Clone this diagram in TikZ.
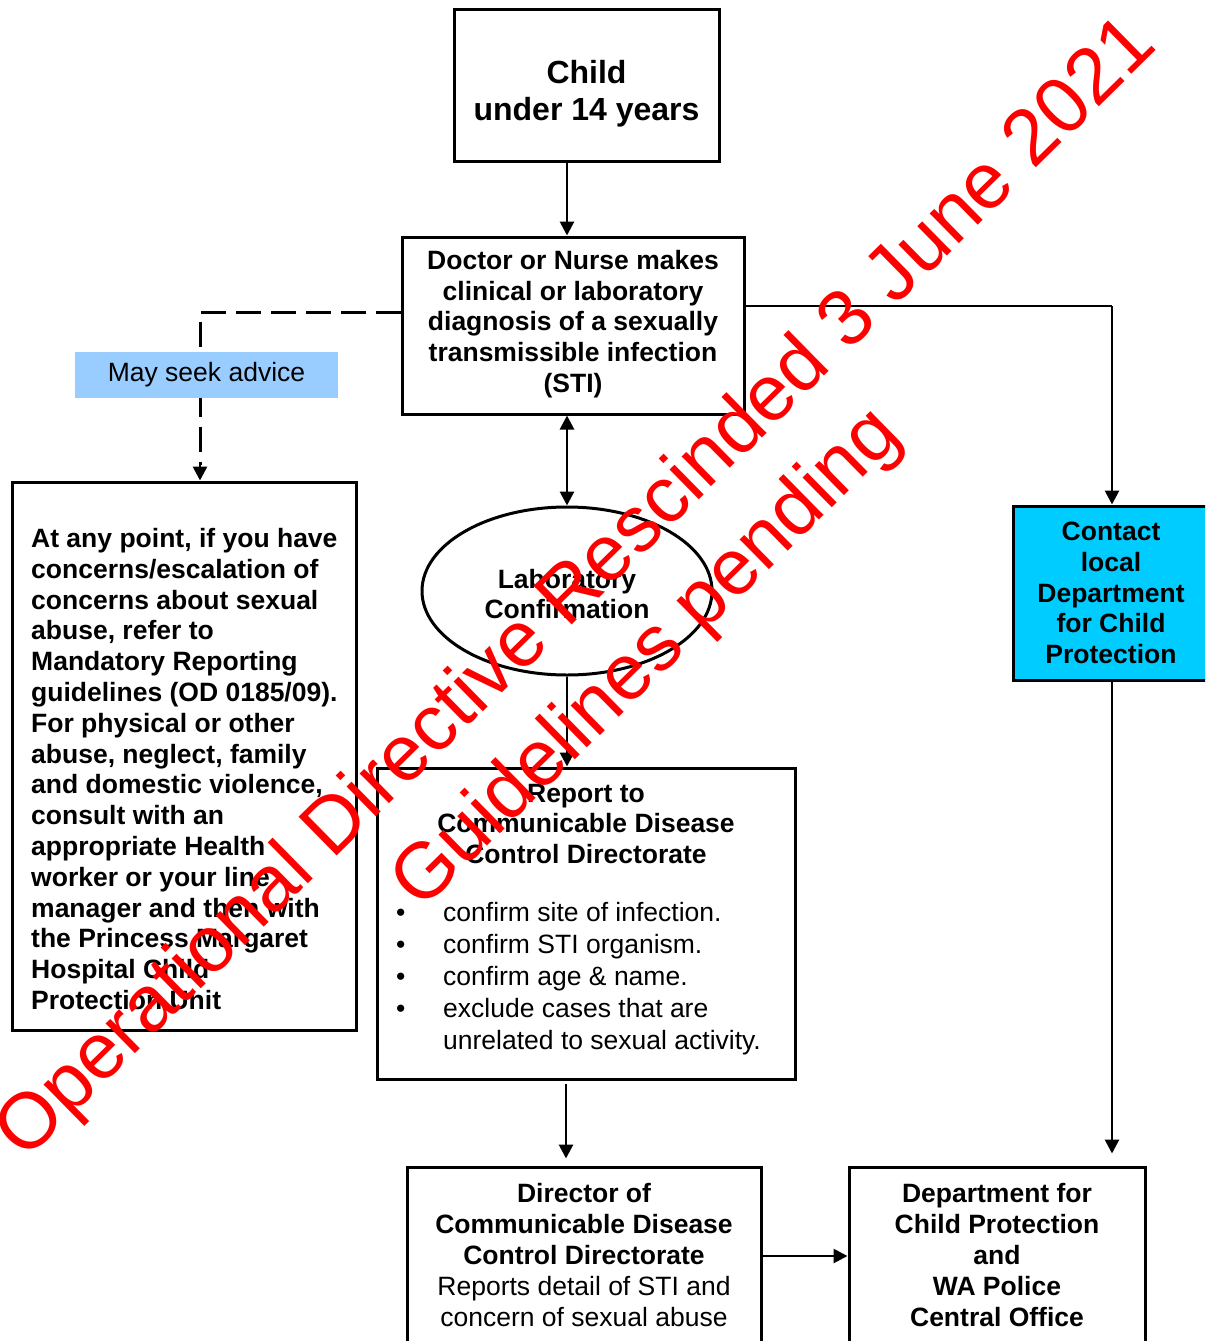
\documentclass[tikz,border=0pt]{standalone}
\usepackage{fontspec}
\setmainfont{Liberation Sans}
\usetikzlibrary{arrows.meta,shapes.geometric}
\definecolor{advblue}{HTML}{99CCFF}
\definecolor{contcyan}{HTML}{00CCFF}
\definecolor{wmred}{HTML}{FF0000}
\begin{document}
\begin{tikzpicture}[x=1pt,y=-1pt,
  box/.style={draw=black,line width=3pt,rectangle,inner sep=0pt},
  btxt/.style={font=\bfseries\fontsize{26.5}{30.8}\selectfont,align=center,inner sep=0pt},
  rtxt/.style={font=\fontsize{26.5}{32.1}\selectfont,align=center,inner sep=0pt},
  arr/.style={line width=2.8pt,-{Triangle[length=14pt,width=14pt]}},
  dblarr/.style={line width=2.8pt,{Triangle[length=14pt,width=14pt]}-{Triangle[length=14pt,width=14pt]}},
  dasharr/.style={line width=3pt,dash pattern=on 25pt off 10pt},
  wm/.style={text=wmred,font=\fontsize{79}{90}\selectfont,inner sep=0pt,rotate=44.5}]
\clip (0,0) rectangle (1205,1341);
\fill[white] (0,0) rectangle (1205,1341);

% boxes
\node[box,minimum width=265pt,minimum height=152pt] (child) at (586.5,85) {};
\node[btxt,font=\bfseries\fontsize{32}{37}\selectfont] (childtxt) at (586.5,94) {Child\\under 14 years};

\node[box,minimum width=342pt,minimum height=177pt] (doctor) at (573,325.5) {};
\node[btxt] (doctortxt) at (573,324) {Doctor or Nurse makes\\clinical or laboratory\\diagnosis of a sexually\\transmissible infection\\(STI)};

\node[box,minimum width=344pt,minimum height=548pt] (left) at (184,756) {};
\node[btxt,align=left,anchor=west] (lefttxt) at (31,769) {At any point, if you have\\concerns/escalation of\\concerns about sexual\\abuse, refer to\\Mandatory Reporting\\guidelines (OD 0185/09).\\For physical or other\\abuse, neglect, family\\and domestic violence,\\consult with an\\appropriate Health\\worker or your line\\manager and then with\\the Princess Margaret\\Hospital Child\\Protection Unit};

\node[box,fill=contcyan,minimum width=196pt,minimum height=174pt] (contact) at (1111,593) {};
\node[btxt] (contacttxt) at (1111,593) {Contact\\local\\Department\\for Child\\Protection};

\node[ellipse,draw=black,line width=3pt,minimum width=290pt,minimum height=168pt,inner sep=0pt] (lab) at (567,591) {};
\node[btxt] (labtxt) at (567,594) {Laboratory\\Confirmation};

\node[box,minimum width=418pt,minimum height=311pt] (report) at (586,923.5) {};
\node[btxt] (reporthead) at (586,824) {Report to\\Communicable Disease\\Control Directorate};
\node[rtxt,anchor=west,align=left] (reportlist) at (396,979) {\begin{tabular}{@{}p{47pt}@{}l@{}}
\textbullet & confirm site of infection.\\
\textbullet & confirm STI organism.\\
\textbullet & confirm age \& name.\\
\textbullet & exclude cases that are\\
 & unrelated to sexual activity.
\end{tabular}};

\node[box,minimum width=354pt,minimum height=190pt] (director) at (584,1262) {};
\node[btxt] (directortxt) at (584,1255) {Director of\\Communicable Disease\\Control Directorate\\\mdseries Reports detail of STI and\\\mdseries concern of sexual abuse};

\node[box,minimum width=296pt,minimum height=190pt] (dept) at (997,1262) {};
\node[btxt] (depttxt) at (997,1255) {Department for\\Child Protection\\and\\WA Police\\Central Office};

% connectors
\draw[arr] (child.south -| 567,0) -- (doctor.north -| 567,0);
\draw[dasharr] (doctor.west |- 0,312) -- (200,312) -- (200,465);
\draw[arr] (200,462) -- (left.north -| 200,0);
\node[fill=advblue,minimum width=263pt,minimum height=46pt,inner sep=0pt,font=\fontsize{26.5}{30.8}\selectfont] (advice) at (206.5,375) {May seek advice};
\draw[line width=2.8pt] (doctor.east |- 0,306) -- (1112,306);
\draw[arr] (1112,306) -- (contact.north -| 1112,0);
\draw[dblarr] (doctor.south -| 567,0) -- (lab.north);
\draw[arr] (lab.south) -- (report.north -| 567,0);
\draw[arr,shorten >=12pt] (contact.south -| 1112,0) -- (dept.north -| 1112,0);
\draw[arr,shorten >=7pt,shorten <=3pt] (report.south -| 566,0) -- (director.north -| 566,0);
\draw[arr] (director.east |- 0,1256) -- (dept.west |- 0,1256);

% watermark
\node[wm] (wm1) at (578,590) {Operational Directive Rescinded 3 June 2021};
\node[wm] (wm2) at (648,660) {Guidelines pending};
\end{tikzpicture}
\end{document}
